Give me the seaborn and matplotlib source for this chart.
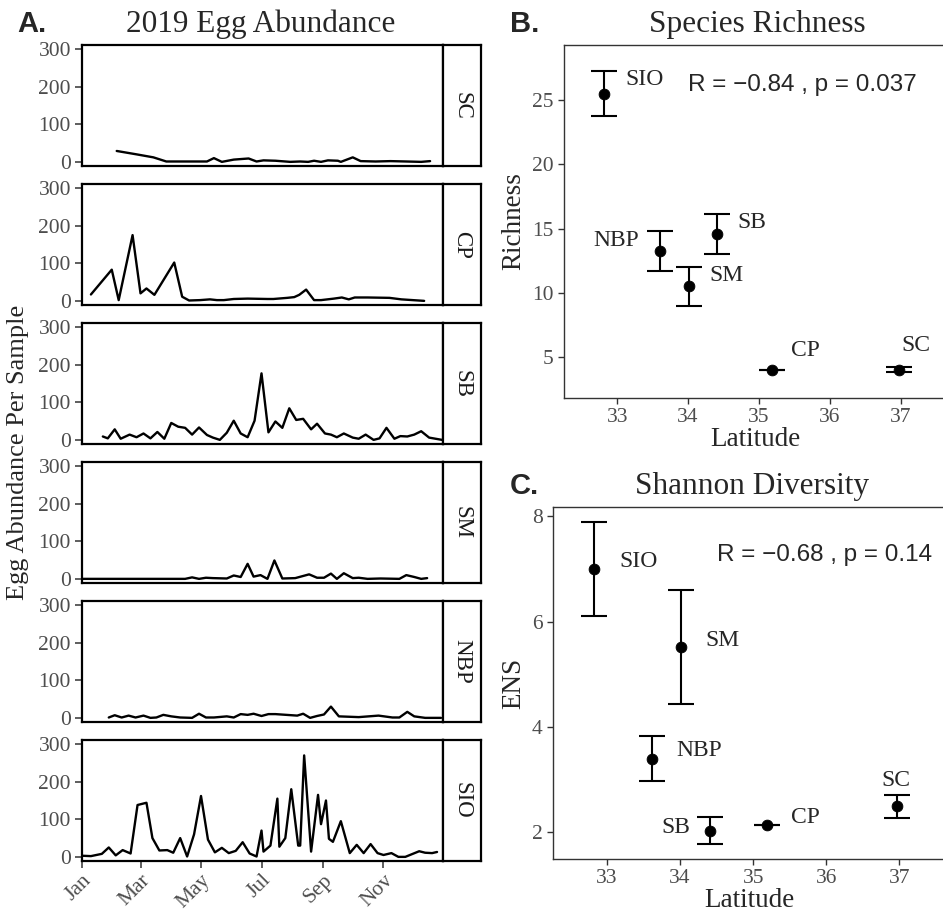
import seaborn as sns
import pandas as pd
import matplotlib.pyplot as plt
import matplotlib.dates as mdates

sns.set_theme(style='white')
plt.rcParams['font.family'] = ['Liberation Serif', 'DejaVu Serif']

# ---- data: egg abundance per sample (day of year 2019, eggs) ----
sc_day = [35, 55, 72, 85, 100, 115, 126, 133, 141, 153, 168, 176, 183, 195, 210, 220, 228,
          234, 241, 248, 258, 261, 273, 281, 296, 311, 327, 342, 351]
sc_eggs = [29, 20, 12, 1, 1, 1, 1, 10, 0, 6, 9, 1, 4, 3, 0, 1, 0,
           3, 0, 4, 3, 0, 12, 2, 1, 2, 1, 0, 2]

cp_day = [9, 30, 37, 51, 59, 65, 73, 93, 101, 108, 119, 129, 136, 143, 153, 167, 187, 193,
          207, 214, 219, 226, 234, 241, 254, 262, 269, 275, 288, 310, 322, 345]
cp_eggs = [17, 83, 2, 175, 20, 33, 16, 102, 11, 1, 2, 4, 2, 2, 5, 6, 5, 5,
           8, 10, 16, 30, 2, 2, 6, 9, 4, 9, 9, 8, 4, 0]

sb_day = [21, 26, 33, 39, 48, 55, 62, 69, 76, 83, 90, 97, 104, 111, 118, 126, 132, 139, 146,
          153, 160, 167, 174, 181, 188, 195, 202, 209, 216, 223, 231, 237, 245, 251, 257, 264,
          273, 279, 286, 294, 300, 307, 315, 321, 328, 335, 342, 350, 363]
sb_eggs = [9, 4, 28, 3, 14, 7, 17, 4, 21, 3, 45, 35, 32, 14, 33, 13, 6, 0, 19,
           51, 17, 7, 51, 177, 20, 49, 32, 84, 53, 56, 28, 43, 17, 14, 7, 17,
           6, 3, 14, 0, 4, 32, 3, 10, 9, 14, 23, 6, 0]

sm_day = [0, 30, 60, 90, 104, 111, 118, 125, 132, 146, 153, 160, 167, 173, 180, 187, 194,
          202, 215, 229, 237, 244, 251, 257, 264, 273, 279, 288, 301, 320, 327, 335, 342, 348]
sm_eggs = [0, 0, 0, 0, 0, 4, 0, 3, 2, 1, 9, 5, 40, 6, 10, 0, 49,
           1, 2, 12, 3, 3, 14, 0, 15, 2, 3, 0, 1, 0, 10, 5, 0, 2]

nbp_day = [27, 33, 40, 47, 54, 62, 69, 75, 82, 90, 99, 111, 118, 125, 133, 146, 153, 160,
           167, 173, 181, 188, 195, 217, 223, 230, 237, 244, 251, 259, 279, 299, 313, 320,
           328, 335, 346, 362]
nbp_eggs = [1, 7, 1, 6, 1, 6, 0, 1, 8, 4, 1, 0, 11, 1, 1, 4, 1, 10,
            8, 11, 5, 10, 10, 6, 11, 0, 5, 9, 30, 4, 2, 6, 1, 1,
            16, 4, 0, 0]

sio_day = [0, 9, 20, 27, 34, 41, 49, 56, 65, 71, 78, 86, 92, 99, 106, 113, 120, 127, 134,
           141, 148, 155, 162, 169, 176, 181, 183, 190, 197, 199, 205, 211, 218, 220, 224,
           231, 238, 241, 246, 249, 253, 261, 270, 277, 284, 291, 298, 304, 312, 319, 326,
           340, 346, 353, 358]
sio_eggs = [3, 2, 8, 25, 4, 18, 9, 138, 144, 50, 17, 18, 11, 50, 1, 60, 162, 46, 12,
            24, 10, 16, 39, 9, 1, 70, 14, 30, 155, 27, 50, 180, 30, 30, 270,
            14, 165, 87, 150, 48, 40, 95, 10, 32, 10, 34, 10, 5, 10, 0, 0,
            15, 11, 10, 13]

sites = ['SC', 'CP', 'SB', 'SM', 'NBP', 'SIO']
series = {'SC': (sc_day, sc_eggs), 'CP': (cp_day, cp_eggs), 'SB': (sb_day, sb_eggs),
          'SM': (sm_day, sm_eggs), 'NBP': (nbp_day, nbp_eggs), 'SIO': (sio_day, sio_eggs)}

# ---- data: diversity vs latitude ----
div_sites = ['SIO', 'NBP', 'SM', 'SB', 'CP', 'SC']
latitude = [32.82, 33.61, 34.01, 34.41, 35.19, 36.97]
richness = [25.5, 13.25, 10.5, 14.55, 4.0, 4.0]
richness_se = [1.75, 1.55, 1.5, 1.55, 0.0, 0.2]
ens = [7.0, 3.4, 5.52, 2.03, 2.13, 2.49]
ens_se = [0.89, 0.42, 1.08, 0.25, 0.0, 0.22]

# label anchor positions (lat, value) as placed in the figure
rich_lab_x = [33.38, 32.99, 34.54, 34.90, 35.66, 37.21]
rich_lab_y = [26.56, 14.07, 11.35, 15.49, 5.49, 5.93]
ens_lab_x = [33.43, 34.26, 34.58, 33.94, 35.72, 36.95]
ens_lab_y = [7.15, 3.56, 5.65, 2.08, 2.27, 2.99]

W, H = 943, 913
fig = plt.figure(figsize=(W / 100, H / 100), dpi=100)


def box(l, t, r, b):
    return [l / W, 1 - b / H, (r - l) / W, (b - t) / H]


tick_col = '#333333'
lab_col = '#4D4D4D'
start = pd.Timestamp('2019-01-01')

# ---- panel A: faceted time series ----
tops = [45, 184, 323, 462, 601, 740]
for i, site in enumerate(sites):
    t = tops[i]
    ax = fig.add_axes(box(82, t, 443, t + 121))
    day, eggs = series[site]
    df = pd.DataFrame({'date': start + pd.to_timedelta(day, unit='D'), 'eggs': eggs})
    sns.lineplot(data=df, x='date', y='eggs', ax=ax, color='black', lw=1.7)
    ax.set_xlim(start, pd.Timestamp('2019-12-31'))
    ax.set_ylim(-11, 311)
    ax.set_yticks([0, 100, 200, 300])
    ax.xaxis.set_major_locator(mdates.MonthLocator(bymonth=[1, 3, 5, 7, 9, 11]))
    ax.xaxis.set_major_formatter(mdates.DateFormatter('%b'))
    ax.set_xlabel('')
    ax.set_ylabel('')
    for s in ax.spines.values():
        s.set_color('black')
        s.set_linewidth(1.6)
    ax.tick_params(axis='y', length=5, width=1.1, color=tick_col, labelcolor=lab_col,
                   labelsize=15.5, pad=3, left=True)
    if i < 5:
        ax.tick_params(axis='x', bottom=False, labelbottom=False)
    else:
        ax.tick_params(axis='x', length=5, width=1.1, color=tick_col, labelcolor=lab_col,
                       labelsize=15.5, pad=2, bottom=True)
        for lbl in ax.get_xticklabels():
            lbl.set_rotation(45)
            lbl.set_ha('right')
            lbl.set_va('top')
            lbl.set_rotation_mode('anchor')
    # strip
    sx = fig.add_axes(box(443, t, 481, t + 121))
    sx.set_xticks([])
    sx.set_yticks([])
    for s in sx.spines.values():
        s.set_color('black')
        s.set_linewidth(1.6)
    sx.text(0.5, 0.5, site, rotation=270, ha='center', va='center', fontsize=16.5,
            color='#1A1A1A', transform=sx.transAxes)

fig.text(261 / W, 1 - 32 / H, '2019 Egg Abundance', ha='center', va='baseline', fontsize=22.5)
fig.text(18 / W, 1 - 452 / H, 'Egg Abundance Per Sample', rotation=90, ha='center',
         va='center', fontsize=19)
fig.text(17 / W, 1 - 32 / H, 'A.', family='Liberation Sans', fontweight='bold',
         fontsize=21, va='baseline')


def diversity_panel(rect, vals, errs, lab_x, lab_y, xlim, ylim, yticks, ylabel, title,
                    title_px, letter_px, stat, stat_xy):
    ax = fig.add_axes(rect)
    ax.errorbar(latitude, vals, yerr=errs, fmt='none', ecolor='black', elinewidth=1.5,
                capsize=9.2, capthick=1.5)
    sns.scatterplot(x=latitude, y=vals, ax=ax, color='black', s=60, edgecolor='black',
                    zorder=3)
    for name, x, y in zip(div_sites, lab_x, lab_y):
        ax.text(x, y, name, ha='center', va='center', fontsize=17)
    ax.text(stat_xy[0], stat_xy[1], stat, family='Liberation Sans', fontsize=17.5,
            ha='left', va='center')
    ax.set_xlim(*xlim)
    ax.set_ylim(*ylim)
    ax.set_xticks([33, 34, 35, 36, 37])
    ax.set_yticks(yticks)
    for s in ax.spines.values():
        s.set_color(tick_col)
        s.set_linewidth(1.0)
    ax.tick_params(length=4.5, width=1.0, color=tick_col, labelcolor=lab_col,
                   labelsize=15.5, pad=3, left=True, bottom=True)
    ax.set_xlabel('Latitude', fontsize=19.5, labelpad=0)
    ax.set_ylabel(ylabel, fontsize=19.5, labelpad=4)
    fig.text(title_px[0] / W, 1 - title_px[1] / H, title, ha='center', va='baseline',
             fontsize=22.5)
    fig.text(letter_px[0] / W, 1 - letter_px[1] / H, letter_px[2],
             family='Liberation Sans', fontweight='bold', fontsize=21, va='baseline')
    return ax


diversity_panel(box(564, 45, 946, 398), richness, richness_se, rich_lab_x, rich_lab_y,
                (32.25, 37.64), (1.81, 29.28), [5, 10, 15, 20, 25], 'Richness',
                'Species Richness', (757, 32), (510, 32, 'B.'),
                'R = \u22120.84 , p = 0.037', (34.0, 26.17))

diversity_panel(box(553, 507, 946, 859), ens, ens_se, ens_lab_x, ens_lab_y,
                (32.26, 37.64), (1.49, 8.18), [2, 4, 6, 8], 'ENS',
                'Shannon Diversity', (752, 494), (510, 494, 'C.'),
                'R = \u22120.68 , p = 0.14', (34.51, 7.26))

fig.savefig('out.png', dpi=100)
